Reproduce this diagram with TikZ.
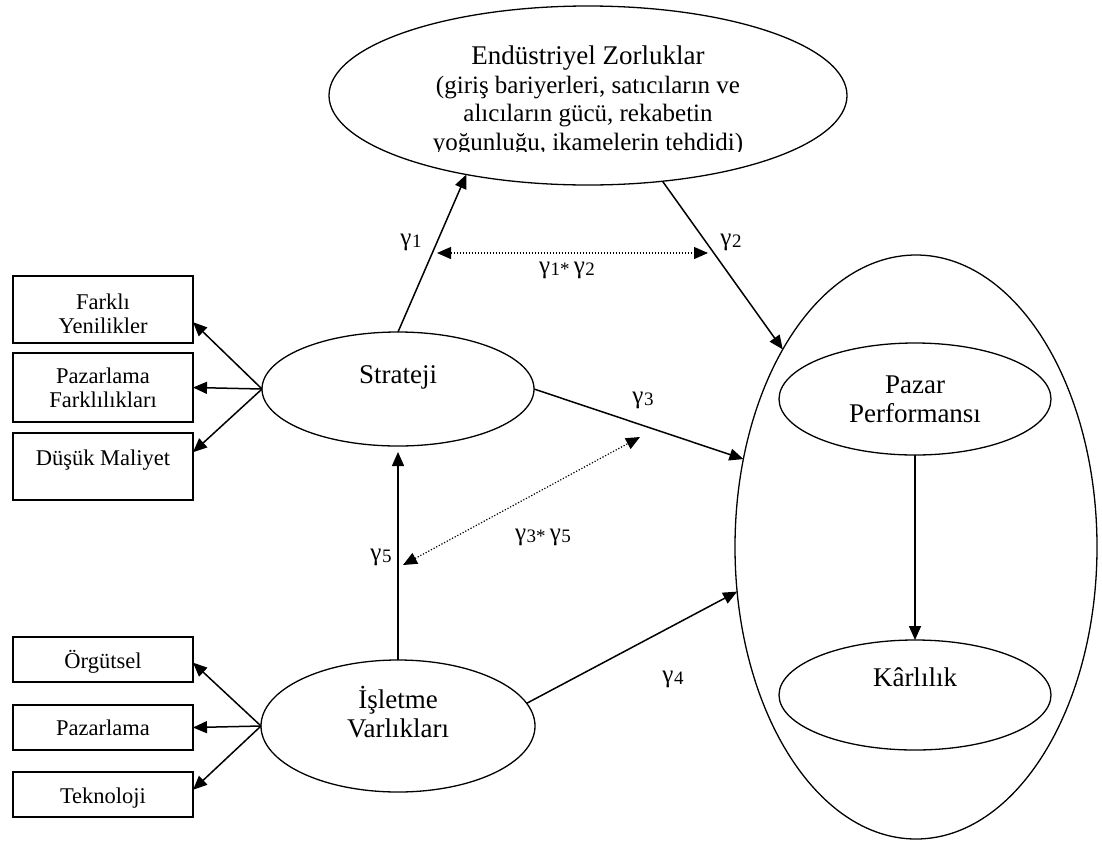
\documentclass[tikz,border=0pt]{standalone}
\usepackage{fontspec}
\setmainfont{Liberation Serif}
\usetikzlibrary{shapes.geometric,arrows.meta}
% centred stack of lines whose baseline is that of the first line
\newcommand\lines[1]{\begin{tabular}[t]{@{}c@{}}#1\end{tabular}}
% gamma with a lowered index
\newcommand\gam[1]{γ\kern0.5pt\raisebox{-2.5pt}{\fontsize{19}{19}\selectfont #1}}
\begin{document}
\begin{tikzpicture}[x=1pt,y=-1pt,
  oval/.style={ellipse,draw,line width=1.3pt,inner sep=0pt,outer sep=0pt},
  boxn/.style={draw,line width=1.2pt,minimum width=180pt,inner sep=0pt,outer sep=0pt},
  lbl/.style={inner sep=0pt,anchor=base,font=\fontsize{27}{29}\selectfont},
  note/.style={inner sep=0pt,anchor=base,font=\fontsize{25}{28.5}\selectfont},
  sm/.style={inner sep=0pt,anchor=base,font=\fontsize{22.5}{24.5}\selectfont},
  gl/.style={inner sep=0pt,anchor=base,font=\fontsize{25}{25}\selectfont},
  arr/.style={line width=1.5pt,-{Triangle[length=14pt,width=12pt]}},
  dots/.style={line width=1.2pt,dash pattern=on 1.2pt off 1.8pt,
    {Triangle[length=14pt,width=12pt]}-{Triangle[length=14pt,width=12pt]}},
]
\useasboundingbox (0,0) rectangle (1102,844);

% industry forces (text box cut just below the last baseline)
\node[oval,minimum width=518pt,minimum height=179pt] (top) at (588,95.5) {};
\node[lbl] (topT) at (588,64) {Endüstriyel Zorluklar};
\begin{scope}
  \clip (330,20) rectangle (846,151);
  \node[note] (topN) at (588,93) {\lines{(giriş bariyerleri, satıcıların ve\\ alıcıların gücü, rekabetin\\ yoğunluğu, ikamelerin tehdidi)}};
\end{scope}

% strategy and assets
\node[oval,minimum width=272pt,minimum height=114pt] (strat) at (398,389) {};
\node[lbl] (stratT) at (398,383) {Strateji};
\node[oval,minimum width=274pt,minimum height=132pt] (isl) at (398,726) {};
\node[lbl] (islT) at (398,708) {\lines{İşletme\\Varlıkları}};

% performance
\node[oval,minimum width=362pt,minimum height=584pt] (big) at (916,547) {};
\node[oval,minimum width=272pt,minimum height=112pt] (paz) at (915,399) {};
\node[lbl] (pazT) at (915,393) {\lines{Pazar\\Performansı}};
\node[oval,minimum width=272pt,minimum height=110pt] (kar) at (915,695) {};
\node[lbl] (karT) at (915,686) {Kârlılık};

% indicator boxes
\node[boxn,minimum height=67pt] (b1) at (103,309.5) {};
\node[sm] (b1T) at (103,309) {\lines{Farklı\\Yenilikler}};
\node[boxn,minimum height=69pt] (b2) at (103,387.5) {};
\node[sm] (b2T) at (103,383) {\lines{Pazarlama\\Farklılıkları}};
\node[boxn,minimum height=67pt] (b3) at (103,466.5) {};
\node[sm] (b3T) at (103,465) {Düşük Maliyet};
\node[boxn,minimum height=45pt] (b4) at (103,659.5) {};
\node[sm] (b4T) at (103,668) {Örgütsel};
\node[boxn,minimum height=45pt] (b5) at (103,727.5) {};
\node[sm] (b5T) at (103,735) {Pazarlama};
\node[boxn,minimum height=45pt] (b6) at (103,794.5) {};
\node[sm] (b6T) at (103,803) {Teknoloji};

% indicator arrows
\draw[arr] (strat.west) -- (b1.-8.5);
\draw[arr] (strat.west) -- (b2.east);
\draw[arr] (strat.west) -- (b3.9);
\draw[arr] (isl.west) -- (b4.-2);
\draw[arr] (isl.west) -- (b5.east);
\draw[arr] (isl.west) -- (b6.3);

% structural paths
\draw[arr] (strat.north) -- (top.213);
\draw[arr] (top.311) -- (big.124);
\draw[arr] (strat.east) -- (big.153);
\draw[arr] (isl.10) -- (big.194);
\draw[arr,shorten >=6pt] (isl.north) -- (strat.south);
\draw[arr] (paz.south) -- (kar.north);

% interaction paths
\coordinate (d1a) at (437,253);
\coordinate (d1b) at (708,253);
\draw[dots] (d1a) -- (d1b);
\coordinate (d2a) at (403,565);
\coordinate (d2b) at (640,437);
\draw[dots] (d2a) -- (d2b);

% path coefficients
\node[gl] (g1) at (411,245) {\gam{1}};
\node[gl] (g2) at (731,245) {\gam{2}};
\node[gl] (g12) at (567,273) {\gam{1*}\,\gam{2}};
\node[gl] (g3) at (643,403) {\gam{3}};
\node[gl] (g35) at (543,540) {\gam{3*}\,\gam{5}};
\node[gl] (g4) at (673,682) {\gam{4}};
\node[gl] (g5) at (381,560) {\gam{5}};
\end{tikzpicture}
\end{document}
